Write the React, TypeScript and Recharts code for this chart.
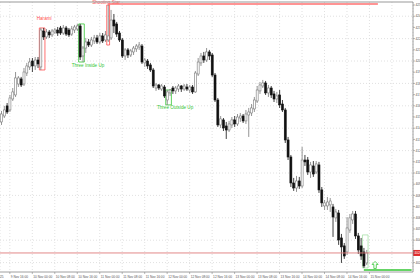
import React from 'react';
import {
  ComposedChart,
  Bar,
  XAxis,
  YAxis,
  CartesianGrid,
  ReferenceLine,
  ReferenceArea,
  ReferenceDot,
} from 'recharts';

// H1 candles, 9 Nov 13:00 onwards
const opens = [
  4145.6, 4150.9, 4159.9, 4156.3, 4166.1, 4169.7, 4179.5, 4184.0, 4179.5, 4189.3,
  4194.7, 4200.0, 4195.6, 4200.9, 4194.7, 4226.8, 4221.5, 4225.9, 4223.3, 4225.9,
  4227.7, 4229.5, 4225.0, 4229.5, 4227.7, 4224.1, 4227.7, 4228.6, 4231.3, 4204.5,
  4211.6, 4217.0, 4214.3, 4217.9, 4220.6, 4217.0, 4222.4, 4218.8, 4218.8, 4220.6,
  4236.6, 4233.1, 4225.0, 4218.8, 4204.5, 4209.9, 4205.4, 4208.1, 4210.8, 4212.5,
  4213.4, 4198.3, 4200.0, 4196.5, 4192.0, 4175.9, 4178.6, 4175.0, 4176.8, 4165.2,
  4171.5, 4175.9, 4173.3, 4175.0, 4177.7, 4175.0, 4176.8, 4174.1, 4176.8, 4172.4,
  4188.4, 4198.3, 4204.5, 4200.9, 4208.1, 4205.4, 4187.5, 4165.2, 4142.9, 4147.4,
  4142.0, 4138.4, 4142.9, 4147.4, 4143.8, 4149.1, 4150.9, 4146.5, 4151.8, 4153.6,
  4157.2, 4164.3, 4173.3, 4177.7, 4180.4, 4171.5, 4175.9, 4170.6, 4166.1, 4169.7,
  4161.6, 4156.3, 4129.5, 4114.3, 4091.1, 4086.6, 4092.9, 4088.4, 4111.6, 4111.6,
  4100.9, 4106.3, 4100.9, 4107.2, 4084.9, 4070.6, 4070.6, 4071.5, 4069.7, 4059.9,
  4064.3, 4042.0, 4034.9, 4029.5, 4049.1, 4058.1, 4063.4, 4043.8, 4034.9, 4029.5,
  4019.7,
];
const highs = [
  4155.4, 4159.9, 4162.5, 4169.7, 4175.9, 4190.2, 4186.6, 4185.8, 4193.8, 4198.3,
  4202.7, 4202.7, 4203.6, 4203.6, 4229.5, 4229.5, 4228.6, 4227.7, 4228.6, 4229.5,
  4230.4, 4231.3, 4232.2, 4231.3, 4229.5, 4231.3, 4232.2, 4233.1, 4233.1, 4213.4,
  4220.6, 4219.7, 4221.5, 4223.3, 4223.3, 4225.0, 4225.0, 4226.8, 4250.0, 4245.6,
  4242.0, 4234.9, 4226.8, 4220.6, 4211.6, 4211.6, 4210.8, 4213.4, 4215.2, 4217.0,
  4215.2, 4202.7, 4201.8, 4198.3, 4193.8, 4180.4, 4179.5, 4179.5, 4178.6, 4174.1,
  4175.0, 4177.7, 4177.7, 4179.5, 4178.6, 4179.5, 4179.5, 4178.6, 4178.6, 4191.1,
  4202.7, 4207.2, 4208.1, 4211.6, 4209.9, 4207.2, 4189.3, 4167.0, 4150.9, 4149.1,
  4145.6, 4146.5, 4150.0, 4150.9, 4152.7, 4153.6, 4152.7, 4156.3, 4158.1, 4161.6,
  4167.9, 4177.7, 4181.3, 4183.1, 4182.2, 4178.6, 4177.7, 4173.3, 4172.4, 4174.1,
  4165.2, 4158.1, 4132.2, 4116.1, 4095.6, 4097.4, 4096.5, 4123.3, 4116.1, 4114.3,
  4109.9, 4110.7, 4110.7, 4109.9, 4087.5, 4075.9, 4078.6, 4077.7, 4072.4, 4067.9,
  4067.0, 4045.6, 4037.5, 4060.7, 4063.4, 4066.1, 4066.1, 4046.5, 4042.0, 4033.1,
  4031.3,
];
const lows = [
  4142.9, 4149.1, 4152.7, 4154.5, 4164.3, 4167.9, 4176.8, 4176.8, 4177.7, 4186.6,
  4192.0, 4190.2, 4192.0, 4193.8, 4192.0, 4218.8, 4219.7, 4220.6, 4221.5, 4224.1,
  4222.4, 4223.3, 4223.3, 4222.4, 4221.5, 4222.4, 4225.0, 4226.8, 4200.9, 4199.1,
  4207.2, 4212.5, 4212.5, 4215.2, 4215.2, 4215.2, 4216.1, 4217.0, 4217.0, 4218.8,
  4225.0, 4221.5, 4217.0, 4202.7, 4200.9, 4202.7, 4203.6, 4205.4, 4208.1, 4209.9,
  4197.4, 4194.7, 4192.9, 4190.2, 4175.9, 4173.3, 4174.1, 4173.3, 4167.0, 4160.8,
  4168.8, 4170.6, 4170.6, 4172.4, 4172.4, 4173.3, 4173.3, 4171.5, 4170.6, 4171.5,
  4186.6, 4195.6, 4198.3, 4199.1, 4200.9, 4185.8, 4163.4, 4141.1, 4140.2, 4137.5,
  4130.4, 4136.6, 4140.2, 4141.1, 4142.0, 4145.6, 4144.7, 4143.8, 4132.2, 4150.9,
  4154.5, 4162.5, 4170.6, 4175.9, 4169.7, 4167.9, 4167.0, 4163.4, 4162.5, 4158.1,
  4154.5, 4126.8, 4111.6, 4087.5, 4084.0, 4083.1, 4085.8, 4086.6, 4106.3, 4098.3,
  4095.6, 4096.5, 4099.1, 4082.2, 4069.7, 4067.0, 4067.0, 4065.2, 4042.9, 4056.3,
  4035.8, 4019.7, 4023.3, 4026.8, 4046.5, 4054.5, 4041.1, 4027.7, 4022.4, 4015.2,
  4017.9,
];
const closes = [
  4152.7, 4156.3, 4154.5, 4167.0, 4172.4, 4184.9, 4184.9, 4178.6, 4190.2, 4195.6,
  4199.1, 4195.6, 4200.9, 4197.4, 4227.7, 4221.5, 4225.9, 4223.3, 4226.8, 4227.7,
  4225.0, 4225.0, 4229.5, 4224.1, 4223.3, 4228.6, 4230.4, 4231.3, 4203.6, 4211.6,
  4217.0, 4214.3, 4218.8, 4220.6, 4217.0, 4222.4, 4217.9, 4223.3, 4222.4, 4236.6,
  4231.3, 4224.1, 4218.8, 4204.5, 4209.9, 4205.4, 4209.0, 4211.6, 4213.4, 4214.3,
  4199.1, 4200.9, 4195.6, 4192.0, 4177.7, 4178.6, 4175.9, 4177.7, 4168.8, 4172.4,
  4174.1, 4173.3, 4175.9, 4177.7, 4175.0, 4177.7, 4175.0, 4176.8, 4172.4, 4189.3,
  4199.1, 4204.5, 4200.9, 4208.1, 4204.5, 4187.5, 4165.2, 4142.9, 4148.3, 4140.2,
  4138.4, 4143.8, 4147.4, 4143.8, 4150.0, 4150.9, 4146.5, 4152.7, 4154.5, 4158.1,
  4165.2, 4174.1, 4178.6, 4180.4, 4171.5, 4175.9, 4169.7, 4166.1, 4168.8, 4160.8,
  4156.3, 4129.5, 4114.3, 4091.1, 4086.6, 4092.9, 4088.4, 4111.6, 4109.9, 4100.9,
  4107.2, 4099.1, 4108.1, 4084.9, 4073.3, 4073.3, 4074.1, 4075.0, 4060.7, 4065.2,
  4040.2, 4034.0, 4025.9, 4050.9, 4059.9, 4063.4, 4043.8, 4031.3, 4025.9, 4017.0,
  4028.6,
];

// x axis: one slot per hour, empty slots on the right (chart shift)
const SLOTS = 147;
const timeTickIdx = [3, 11, 19, 27, 35, 43, 51, 59, 67, 75, 83, 91, 99, 107, 115, 123, 131, 139];
const timeTickLabels = [
  '9 Nov 16:00', '10 Nov 00:00', '10 Nov 08:00', '10 Nov 16:00', '11 Nov 00:00',
  '11 Nov 08:00', '11 Nov 16:00', '12 Nov 00:00', '12 Nov 08:00', '12 Nov 16:00',
  '13 Nov 00:00', '13 Nov 08:00', '13 Nov 16:00', '14 Nov 00:00', '14 Nov 08:00',
  '14 Nov 16:00', '15 Nov 00:00', '',
];
const firstDateLabel = '9 Nov 2025';

const priceTicks = [
  4020, 4030, 4040, 4050, 4060, 4070, 4080, 4090, 4100, 4110, 4120, 4130,
  4140, 4150, 4160, 4170, 4180, 4190, 4200, 4210, 4220, 4230, 4240, 4250,
];
const gridPrices = [4020, 4040, 4060, 4080, 4100, 4120, 4140, 4160, 4180, 4200, 4220, 4240];
const priceDomain = [4011.6, 4252.7];

// candlestick patterns found by the indicator
const patterns = [
  { name: 'Harami', from: 14, to: 15, top: 4229.5, bottom: 4192.0, bull: false, labelAt: 'top' },
  { name: 'Three Inside Up', from: 28, to: 29, top: 4233.1, bottom: 4199.1, bull: true, labelAt: 'bottom' },
  { name: 'Shooting Star', from: 38, to: 38, top: 4250.0, bottom: 4214.3, bull: false, labelAt: 'top' },
  { name: 'Three Outside Up', from: 59, to: 60, top: 4174.1, bottom: 4160.8, bull: true, labelAt: 'bottom' },
  { name: '', from: 129, to: 130, top: 4044.7, bottom: 4015.2, bull: true, labelAt: 'none' },
];
const resistance = { from: 38, to: 134, price: 4250.9 };
const support = { from: 129, to: 146, price: 4013.4 };
const signalArrow = { at: 133, price: 4017.9 };

const labelShift: Record<string, number> = {
  Harami: 2,
  'Three Inside Up': 6.5,
  'Shooting Star': -2,
  'Three Outside Up': 6.5,
};

const candles = Array.from({ length: SLOTS }, (_, i) =>
  i < opens.length
    ? { i, open: opens[i], high: highs[i], low: lows[i], close: closes[i] }
    : { i }
);
const lastClose = closes[closes.length - 1];

const RED = '#ff4d4d';
const GREEN = '#33c633';
const FONT = '"Liberation Sans", Arial, sans-serif';

function Candle(props: any) {
  const { x, y, width, height, payload } = props;
  if (!payload || payload.high == null) return null;
  const top = Math.min(y, y + height);
  const bot = Math.max(y, y + height);
  const span = payload.high - payload.low;
  const k = span > 0 ? (bot - top) / span : 0;
  const bull = payload.close >= payload.open;
  const bTop = top + (payload.high - Math.max(payload.open, payload.close)) * k;
  const bBot = top + (payload.high - Math.min(payload.open, payload.close)) * k;
  const cx = x + width / 2;
  const col = bull ? '#7a7a7a' : '#111';
  return (
    <g>
      <line x1={cx} x2={cx} y1={top} y2={bot} stroke={col} strokeWidth={0.8} />
      <rect
        x={cx - 1}
        y={bTop}
        width={2}
        height={Math.max(bBot - bTop, 0.8)}
        fill={bull ? '#fff' : '#111'}
        stroke={col}
        strokeWidth={0.6}
      />
    </g>
  );
}

function TimeTick(props: any) {
  const { x, y, payload, index } = props;
  const label = timeTickLabels[timeTickIdx.indexOf(payload.value)] || '';
  return (
    <g>
      {label && <line x1={x} x2={x} y1={y} y2={y + 2} stroke="#888" strokeWidth={0.6} />}
      <text x={x + 1} y={y + 6} fontSize={3.2} fill="#555" fontFamily={FONT}>
        {label}
      </text>
      {index === 0 && (
        <text x={x - 6.3} y={y + 6} fontSize={3.2} fill="#555" fontFamily={FONT} textAnchor="end">
          {firstDateLabel}
        </text>
      )}
    </g>
  );
}

function PriceTick(props: any) {
  const { x, y, payload } = props;
  // the current-price box covers the nearest scale label
  const hidden = Math.abs(payload.value - lastClose) < 5;
  return (
    <g>
      <line x1={x} x2={x + 2} y1={y} y2={y} stroke="#888" strokeWidth={0.6} />
      {!hidden && (
        <text x={x + 2.5} y={y + 1.1} fontSize={3.2} fill="#555" fontFamily={FONT}>
          {payload.value.toFixed(2)}
        </text>
      )}
    </g>
  );
}

function Arrow(props: any) {
  const { cx, cy } = props;
  const d = `M${cx},${cy - 3.5} L${cx + 3},${cy - 0.5} L${cx + 1.2},${cy - 0.5} L${cx + 1.2},${cy + 3.5} L${cx - 1.2},${cy + 3.5} L${cx - 1.2},${cy - 0.5} L${cx - 3},${cy - 0.5} Z`;
  return <path d={d} fill="#fff" stroke={GREEN} strokeWidth={0.8} />;
}

export default function App() {
  return (
    <div style={{ width: 420, height: 280, background: '#fff', overflow: 'hidden' }}>
      <style>{'body{margin:0}'}</style>
      <ComposedChart
        width={420}
        height={280}
        data={candles}
        margin={{ top: 2, right: 0, bottom: 0, left: 0 }}
        barCategoryGap={0}
        barGap={0}
      >
        <CartesianGrid stroke="#d4d4d4" strokeDasharray="1 2" strokeWidth={0.7} horizontalValues={gridPrices} />
        <XAxis
          dataKey="i"
          type="category"
          height={8}
          ticks={timeTickIdx}
          interval={0}
          tick={<TimeTick />}
          tickLine={false}
          tickSize={0}
          tickMargin={0}
          axisLine={{ stroke: '#888', strokeWidth: 0.8 }}
        />
        <YAxis
          orientation="right"
          width={7}
          type="number"
          domain={priceDomain}
          ticks={priceTicks}
          interval={0}
          allowDataOverflow
          tick={<PriceTick />}
          tickLine={false}
          tickSize={0}
          tickMargin={0}
          axisLine={{ stroke: '#888', strokeWidth: 0.8 }}
        />
        <ReferenceLine y={priceDomain[1]} stroke="#999" strokeWidth={1} />
        <ReferenceLine
          y={lastClose}
          stroke="#e07a7a"
          strokeWidth={0.9}
          label={{
            content: (p: any) => {
              const vb = p.viewBox;
              return (
                <g>
                  <rect x={vb.x + vb.width} y={vb.y - 3} width={8} height={6} fill="#e02a2a" />
                  <text x={vb.x + vb.width + 1.5} y={vb.y + 1.1} fontSize={3.2} fill="#fff" fontFamily={FONT}>
                    {lastClose.toFixed(2)}
                  </text>
                </g>
              );
            },
          }}
        />
        <Bar
          dataKey={(d: any) => (d.high == null ? null : [d.low, d.high])}
          shape={<Candle />}
          isAnimationActive={false}
        />
        {patterns.map((p) => (
          <ReferenceArea
            key={`${p.name}-${p.from}`}
            x1={p.from}
            x2={p.to}
            y1={p.bottom}
            y2={p.top}
            fill="none"
            fillOpacity={0}
            stroke={p.name ? (p.bull ? GREEN : RED) : '#a6e0a6'}
            strokeWidth={0.8}
            ifOverflow="visible"
            label={
              p.labelAt === 'none'
                ? undefined
                : {
                    content: (lp: any) => {
                      const vb = lp.viewBox;
                      const cx = vb.x + vb.width / 2 + (labelShift[p.name] || 0);
                      const ty = p.labelAt === 'top' ? vb.y - (p.name === 'Shooting Star' ? 1.5 : 8) : vb.y + vb.height + 4.5;
                      return (
                        <text x={cx} y={ty} fontSize={4.6} fill={p.bull ? GREEN : RED} textAnchor="middle" fontFamily={FONT}>
                          {p.name}
                        </text>
                      );
                    },
                  }
            }
          />
        ))}
        <ReferenceLine
          segment={[
            { x: resistance.from, y: resistance.price },
            { x: resistance.to, y: resistance.price },
          ]}
          stroke="#ff7070"
          strokeWidth={1.5}
          ifOverflow="visible"
        />
        <ReferenceLine
          segment={[
            { x: support.from, y: support.price },
            { x: support.to, y: support.price },
          ]}
          stroke={GREEN}
          strokeWidth={1.5}
          ifOverflow="visible"
        />
        <ReferenceDot x={signalArrow.at} y={signalArrow.price} shape={<Arrow />} ifOverflow="visible" />
      </ComposedChart>
    </div>
  );
}
